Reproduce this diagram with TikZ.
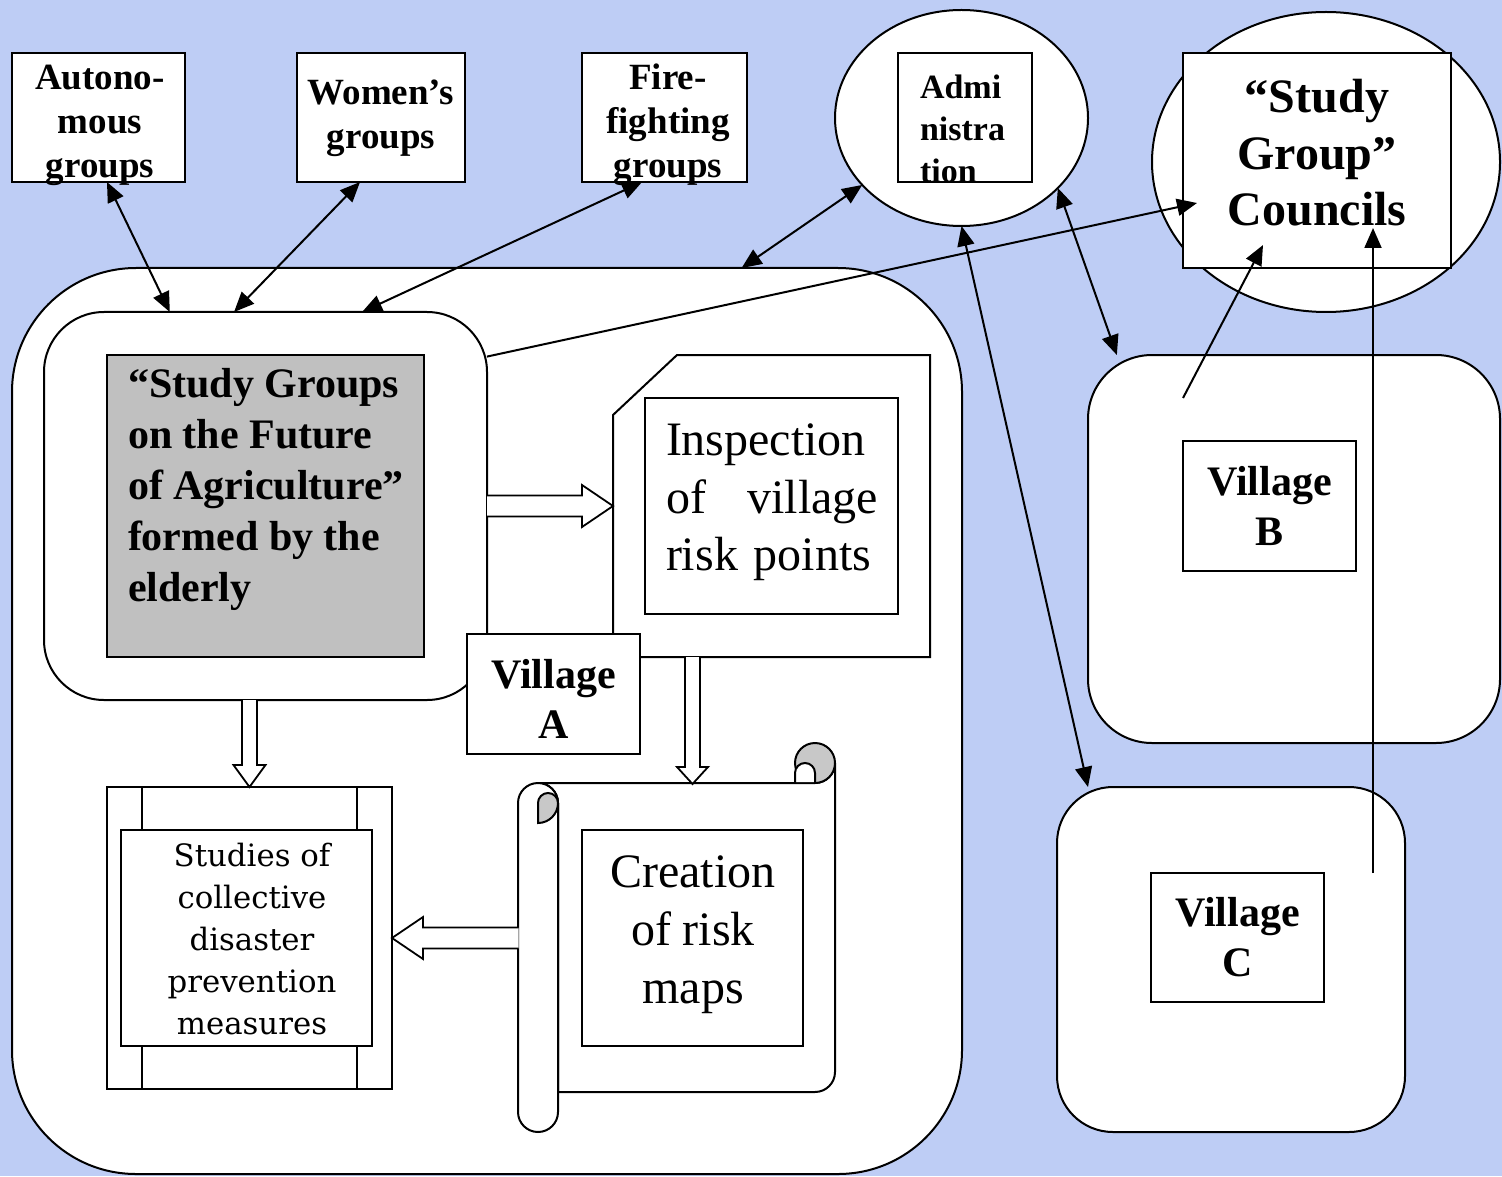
\documentclass[tikz,border=0pt]{standalone}
\usepackage{fontspec}
\setmainfont{Liberation Serif}
\newfontfamily\schfont{DejaVu Serif}
\usetikzlibrary{shapes.geometric,arrows.meta,calc}
\definecolor{bgc}{RGB}{190,205,245}
\definecolor{grayfill}{RGB}{192,192,192}
\definecolor{curl}{RGB}{200,200,200}
\newcommand\blockarrow[5]{%
  \coordinate (bac) at ($(#2)!#5!(#1)$);
  \draw[blk] ($(#1)!#3!90:(#2)$) -- ($(bac)!#3!90:(#2)$) -- ($(bac)!#4!90:(#2)$) -- (#2) -- ($(bac)!#4!-90:(#2)$) -- ($(bac)!#3!-90:(#2)$) -- ($(#1)!#3!-90:(#2)$);}
\begin{document}
\begin{tikzpicture}[x=0.5pt,y=-0.5pt,
  box/.style={draw, fill=white, line width=1pt, inner sep=0pt, outer sep=0pt},
  sz/.style 2 args={minimum width=#1, minimum height=#2},
  txt/.style={inner sep=0pt, outer sep=0pt, align=center},
  topfont/.style={font=\fontsize{18.5pt}{22pt}\selectfont\bfseries},
  vilfont/.style={font=\fontsize{21pt}{25pt}\selectfont\bfseries},
  conn/.style={line width=1pt, -{Triangle[length=10pt,width=8.5pt]}},
  biconn/.style={line width=1pt, {Triangle[length=10pt,width=8.5pt]}-{Triangle[length=10pt,width=8.5pt]}},
  blk/.style={draw, fill=white, line width=0.9pt, line join=miter}]
\fill[bgc] (0,0) rectangle (1502,1176);
\useasboundingbox (0,0) rectangle (1502,1176);

% ---- Village A area
\node[box, rounded corners=62pt, sz={475pt}{453pt}] (areaA) at (487,721) {};
\node[box, rounded corners=30pt, sz={221.5pt}{194pt}] (sgbox) at (265.5,506) {};
\node[box, fill=grayfill, sz={158.5pt}{151pt}] (sg) at (265.5,506) {};
\node[txt, align=left, anchor=north west, font=\fontsize{21pt}{25.5pt}\selectfont\bfseries] (sgt) at (128,368) {“Study Groups\\on the Future\\of Agriculture”\\formed by the\\elderly};

\draw[fill=white, line width=1pt] (613,415) -- (677,355) -- (930,355) -- (930,657) -- (613,657) -- cycle;
\coordinate (inspW) at (613,506);
\coordinate (inspS) at (692.5,657);
\node[box, sz={126.5pt}{108pt}] (insp) at (771.5,506) {};
\node[txt, align=left, text width=106pt, anchor=north west, font=\fontsize{24pt}{28.75pt}\selectfont] (inspt) at (666,424) {Inspection\\of\hfill village\\risk points};

\node[box, sz={86.5pt}{60pt}] (vA) at (553.5,694) {};
\node[txt, vilfont] (vAt) at (553.5,699) {Village\\A};

% scroll
\draw[fill=white, line width=1pt] (538,783) -- (815,783) arc[start angle=90,end angle=0,radius=20] -- (835,1072) arc[start angle=0,end angle=90,radius=20] -- (558,1092) -- (558,803) arc[start angle=0,end angle=-90,radius=20] -- cycle;
\draw[fill=white, line width=1pt] (558,803) -- (558,1112) arc[start angle=0,end angle=180,radius=20] -- (518,803) arc[start angle=180,end angle=360,radius=20] -- cycle;
\draw[fill=curl, line width=1pt] (538,823) -- (538,803) arc[start angle=180,end angle=360,radius=10] arc[start angle=0,end angle=90,radius=20] -- cycle;
\draw[fill=curl, line width=1pt] (815,763) circle[radius=20];
\fill[white] (795,782) -- (795,773) arc[start angle=180,end angle=360,radius=10] -- (815,782) -- cycle;
\draw[line width=1pt] (795,783) -- (795,773) arc[start angle=180,end angle=360,radius=10] -- (815,783);
\coordinate (scrollN) at (692.5,784);
\coordinate (scrollW) at (518.5,938);
\node[box, sz={110.5pt}{108pt}] (creat) at (692.5,938) {};
\node[txt, font=\fontsize{24pt}{29pt}\selectfont] (creatt) at (693,935) {Creation\\of risk\\maps};

% studies
\node[box, sz={142.5pt}{151pt}] (stud) at (249.5,938) {};
\draw[line width=0.8pt] (142,787) -- (142,830) (357,787) -- (357,830) (142,1046) -- (142,1089) (357,1046) -- (357,1089);
\node[box, sz={125.5pt}{108pt}] (studin) at (246.5,938) {};
\node[txt, font=\fontsize{15.4pt}{21pt}\schfont] (studt) at (252,939) {Studies of\\collective\\disaster\\prevention\\measures};

% block arrows
\coordinate (sgS) at (stud.north |- sgbox.south);
\blockarrow{sgbox.east}{inspW}{5.25pt}{10.5pt}{15.5pt}
\blockarrow{inspS}{scrollN}{3.75pt}{7.75pt}{8.5pt}
\blockarrow{sgS}{stud.north}{3.75pt}{8pt}{11pt}
\blockarrow{scrollW}{stud.east}{5.25pt}{10.5pt}{15.5pt}

% top groups
\node[box, sz={86.5pt}{64.5pt}] (auto) at (98.5,117.5) {};
\node[txt, topfont] (autot) at (100,125) {Autono-\\mous\\groups};
\node[box, sz={84pt}{64.5pt}] (wom) at (381,117.5) {};
\node[txt, topfont] (womt) at (381,118) {Women’s\\groups};
\node[box, sz={82.5pt}{64.5pt}] (fire) at (664.5,117.5) {};
\node[txt, topfont] (firet) at (668,125) {Fire-\\fighting\\groups};

% right side
\node[box, ellipse, sz={126.5pt}{108pt}] (adm) at (961.5,118) {};
\node[box, sz={67pt}{64.5pt}] (admb) at (965,117.5) {};
\node[txt, align=left, anchor=west, font=\fontsize{17pt}{21pt}\selectfont\bfseries] (admt) at (920,129) {Admi\\nistra\\tion};
\node[box, ellipse, sz={174pt}{150pt}] (cell) at (1326,162) {};
\node[box, sz={134pt}{107.5pt}] (cbox) at (1317,160.5) {};
\node[txt, font=\fontsize{24pt}{28.25pt}\selectfont\bfseries] (ct) at (1317,153) {“Study\\Group”\\Councils};
\node[box, rounded corners=32pt, sz={206pt}{194pt}] (vB) at (1294,549) {};
\node[box, sz={86.5pt}{65pt}, vilfont, align=center] (vBb) at (1269.5,506) {Village\\B};
\node[box, rounded corners=28pt, sz={174pt}{172.5pt}] (vC) at (1231,959.5) {};
\node[box, sz={86.5pt}{64.5pt}, vilfont, align=center] (vCb) at (1237.5,937.5) {Village\\C};

% connectors
\draw[biconn] ($(auto.south west)!0.549!(auto.south east)$) -- ($(sgbox.north west)!0.284!(sgbox.north east)$);
\draw[biconn] ($(wom.south west)!0.375!(wom.south east)$) -- ($(sgbox.north west)!0.429!(sgbox.north east)$);
\draw[biconn] ($(fire.south west)!0.364!(fire.south east)$) -- ($(sgbox.north west)!0.718!(sgbox.north east)$);
\draw[biconn] (adm.214) -- ($(areaA.north west)!0.768!(areaA.north east)$);
\draw[conn] (sgbox.34.3) -- ($(cbox.west)+(14,42.5)$);
\draw[biconn] (adm.-36) -- ($(vB.north west)!0.07!(vB.north east)$);
\draw[biconn] (adm.south) -- ($(vC.north west)!0.089!(vC.north east)$);
\draw[conn] ($(vB.north west)+(95,43)$) -- ($(cbox.south west)+(80,-23)$);
\draw[conn] ($(vC.north west)+(316,86)$) -- ($(cbox.south west)+(190,-40)$);
\end{tikzpicture}
\end{document}
